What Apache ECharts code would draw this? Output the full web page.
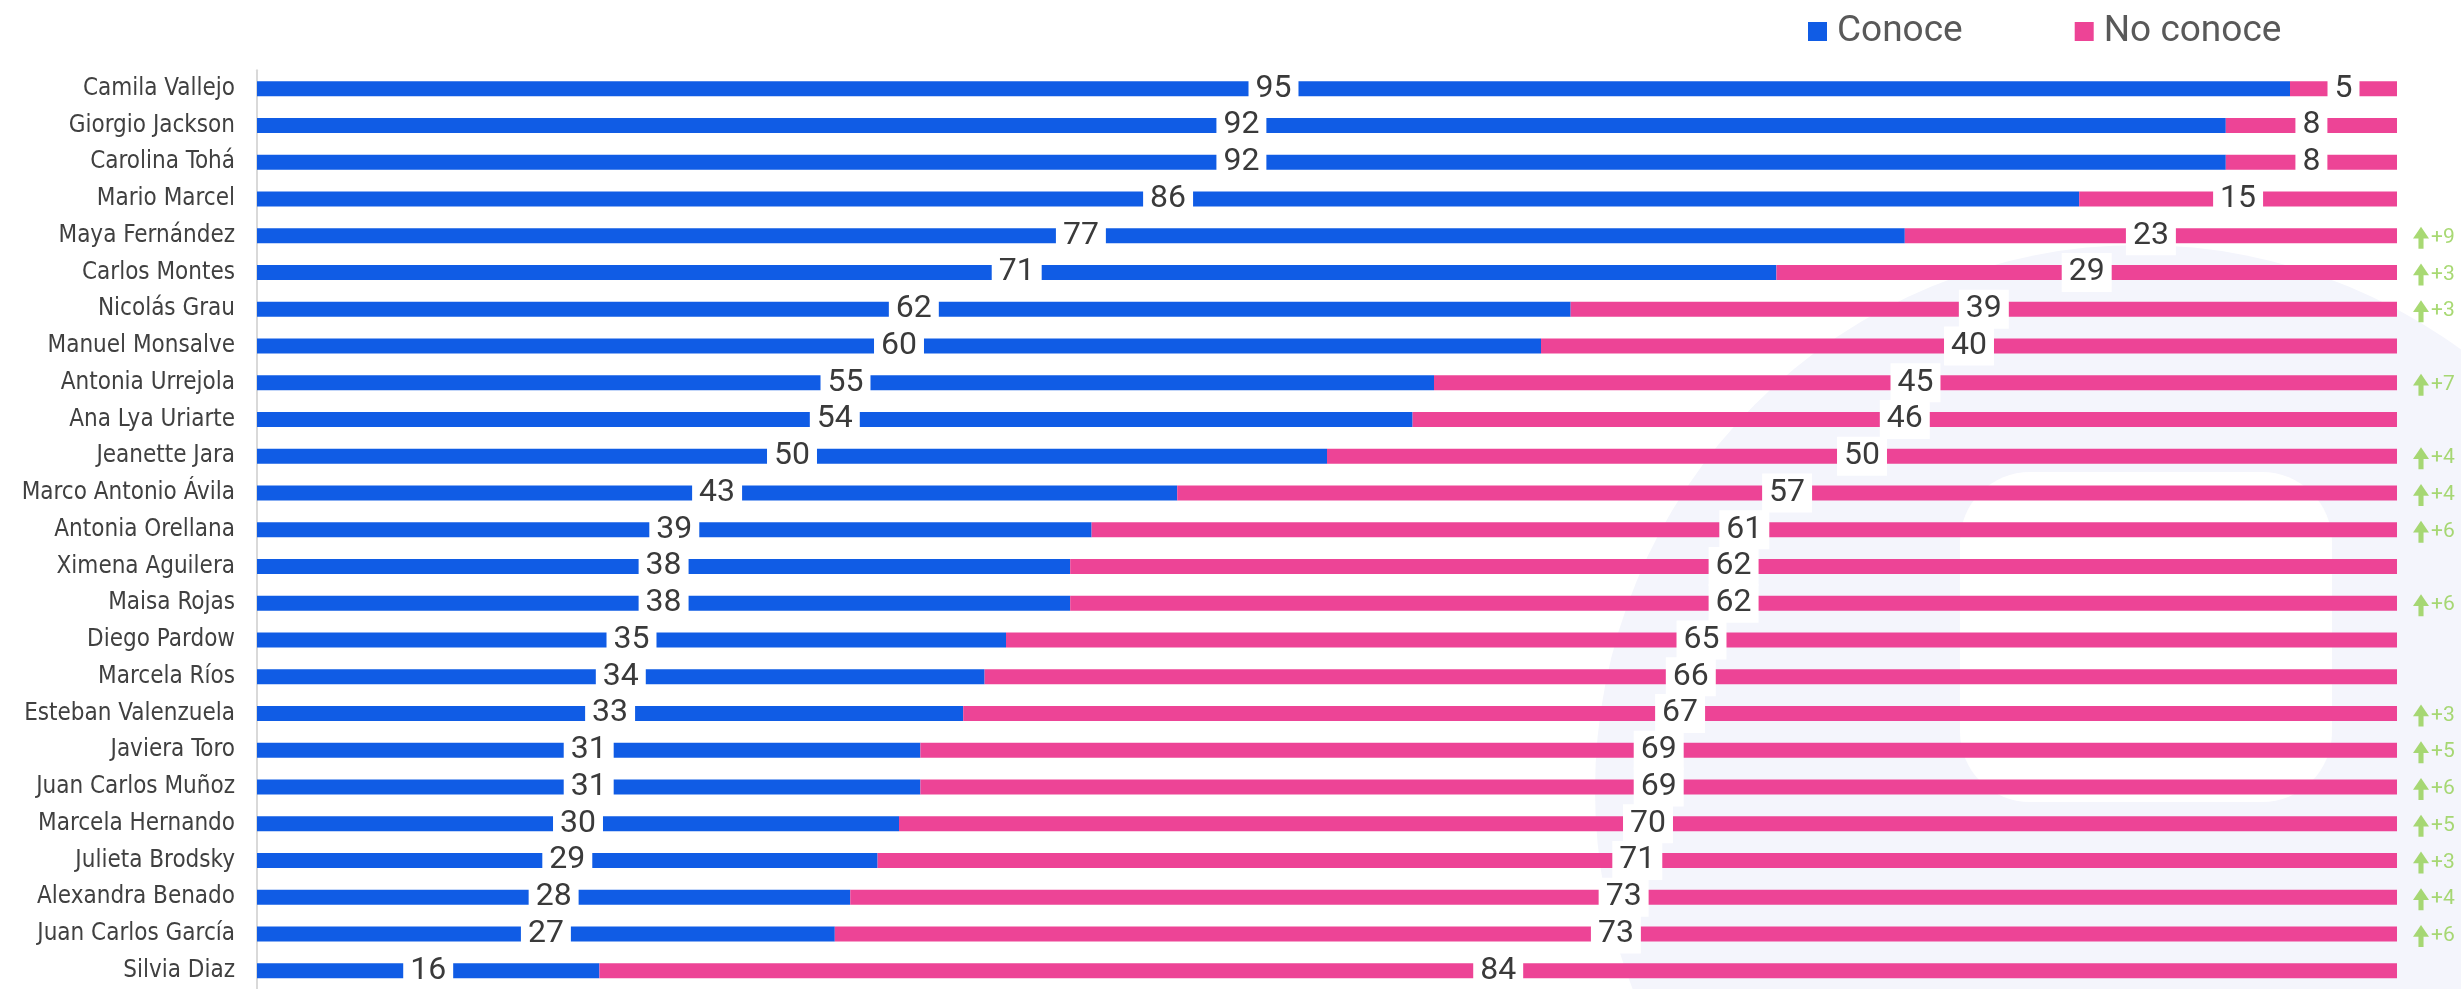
<!DOCTYPE html>
<html>
<head>
<meta charset="utf-8">
<script src="https://cdn.jsdelivr.net/npm/echarts@6/dist/echarts.min.js"></script>
<style>
  html, body { margin: 0; padding: 0; background: #fff; }
  #chart { width: 2461px; height: 989px; }
</style>
</head>
<body>
<div id="chart"></div>
<script>
const names = [
  'Camila Vallejo', 'Giorgio Jackson', 'Carolina Tohá', 'Mario Marcel', 'Maya Fernández',
  'Carlos Montes', 'Nicolás Grau', 'Manuel Monsalve', 'Antonia Urrejola', 'Ana Lya Uriarte',
  'Jeanette Jara', 'Marco Antonio Ávila', 'Antonia Orellana', 'Ximena Aguilera', 'Maisa Rojas',
  'Diego Pardow', 'Marcela Ríos', 'Esteban Valenzuela', 'Javiera Toro', 'Juan Carlos Muñoz',
  'Marcela Hernando', 'Julieta Brodsky', 'Alexandra Benado', 'Juan Carlos García', 'Silvia Diaz'
]
const conoce = [95, 92, 92, 86, 77, 71, 62, 60, 55, 54, 50, 43, 39, 38, 38, 35, 34, 33, 31, 31, 30, 29, 28, 27, 16]
const noConoce = [5, 8, 8, 15, 23, 29, 39, 40, 45, 46, 50, 57, 61, 62, 62, 65, 66, 67, 69, 69, 70, 71, 73, 73, 84]
const changes = ['', '', '', '', '+9', '+3', '+3', '', '+7', '', '+4', '+4', '+6', '', '+6', '', '', '+3', '+5', '+6', '+5', '+3', '+4', '+6', '']

// barras al 100% (algunas filas suman 101)
const share = (arr) => arr.map((v, i) => v / (conoce[i] + noConoce[i]) * 100)

// flechas de variación, ancladas al final de cada barra
const changePoints = names
  .map((n, i) => changes[i] ? [100, n, changes[i]] : null)
  .filter(Boolean)

const valueLabel = (source) => ({
  show: true,
  position: 'inside',
  formatter: (p) => source[p.dataIndex],
  fontFamily: 'Roboto',
  fontSize: 32,
  color: '#3a3a3a',
  backgroundColor: '#fff',
  padding: [3, 7, 4, 7],
})

const chart = echarts.init(document.getElementById('chart'))

chart.setOption({
  animation: false,
  backgroundColor: '#fff',
  graphic: [
    { type: 'circle', shape: { cx: 2140, cy: 790, r: 545 }, style: { fill: '#f4f5fc' }, z: -10, silent: true },
    { type: 'rect', shape: { x: 1960, y: 472, width: 372, height: 330, r: 70 }, style: { fill: '#fff' }, z: -9, silent: true },
  ],
  legend: {
    data: ['Conoce', 'No conoce'],
    left: 1803,
    top: 8,
    icon: 'rect',
    itemWidth: 19,
    itemHeight: 19,
    itemGap: 112,
    textStyle: {
      fontFamily: 'Roboto',
      fontSize: 37,
      color: '#595959',
      padding: [0, 0, 0, 5],
    },
  },
  grid: {
    left: 257,
    top: 70.3,
    width: 2140,
    height: 925,
  },
  xAxis: {
    type: 'value',
    min: 0,
    max: 100,
    show: false,
  },
  yAxis: {
    type: 'category',
    inverse: true,
    data: names,
    axisTick: { show: false },
    axisLine: { lineStyle: { color: '#d9d9d9', width: 2 } },
    axisLabel: {
      margin: 22,
      fontFamily: "'Liberation Sans Narrow', 'DejaVu Sans Condensed', Roboto",
      fontSize: 24,
      color: '#404040',
    },
  },
  series: [
    {
      name: 'Conoce',
      type: 'bar',
      stack: 'total',
      barWidth: 15,
      itemStyle: { color: '#105ce5' },
      label: valueLabel(conoce),
      data: share(conoce),
    },
    {
      name: 'No conoce',
      type: 'bar',
      stack: 'total',
      barWidth: 15,
      itemStyle: { color: '#ed4496' },
      label: valueLabel(noConoce),
      data: share(noConoce),
    },
    {
      name: 'Variación',
      type: 'scatter',
      clip: false,
      symbol: 'path://M8.5 0 L17 13 L11.2 13 L11.2 24 L5.8 24 L5.8 13 L0 13 Z',
      symbolSize: [16, 22],
      symbolOffset: [24, 2],
      itemStyle: { color: '#92d050' },
      label: {
        show: true,
        position: 'right',
        distance: 2,
        formatter: (p) => p.value[2],
        fontFamily: 'Roboto',
        fontSize: 21,
        color: '#92d050',
      },
      data: changePoints,
      z: 5,
    },
  ],
})
</script>
</body>
</html>
